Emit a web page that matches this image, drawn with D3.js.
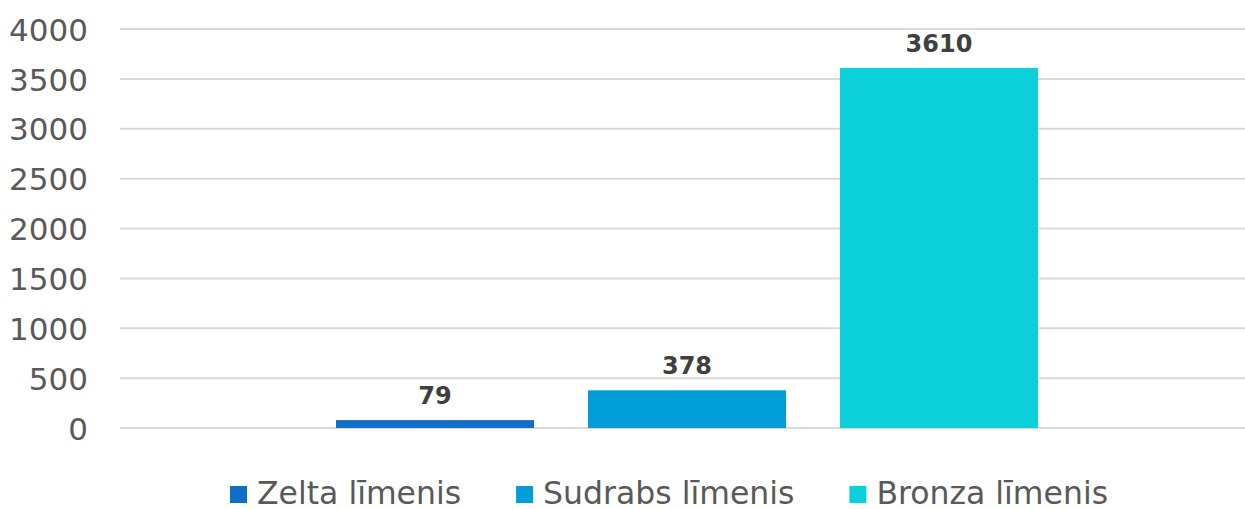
<!DOCTYPE html>
<html>
<head>
<meta charset="utf-8">
<script src="https://cdn.jsdelivr.net/npm/d3@7"></script>
<style>
  html, body { margin: 0; padding: 0; background: #fff; }
  svg { display: block; font-family: "DejaVu Sans", Verdana, sans-serif; }
</style>
</head>
<body>
<div id="chart"></div>
<script>
const seriesNames = ["Zelta līmenis", "Sudrabs līmenis", "Bronza līmenis"];
const seriesValues = [79, 378, 3610];
const seriesColors = ["#0F6FC6", "#009DD9", "#0BD0D9"];
const yTicks = [0, 500, 1000, 1500, 2000, 2500, 3000, 3500, 4000];

const width = 1245;
const height = 509;
const plot = { left: 120, right: 1254, top: 29, bottom: 428 };

const svg = d3.select("#chart")
  .append("svg")
  .attr("width", width)
  .attr("height", height);

const yScale = d3.scaleLinear()
  .domain([0, 4000])
  .range([plot.bottom, plot.top]);

// one category, three series side by side
const x0 = d3.scaleBand()
  .domain(["all"])
  .range([plot.left, plot.right])
  .paddingInner(0)
  .paddingOuter(0.3077);

const x1 = d3.scaleBand()
  .domain(seriesNames)
  .range([0, x0.bandwidth()])
  .paddingInner(0.214)
  .paddingOuter(0);

// gridlines
svg.append("g")
  .selectAll("line")
  .data(yTicks)
  .join("line")
  .attr("x1", plot.left)
  .attr("x2", width)
  .attr("y1", d => yScale(d))
  .attr("y2", d => yScale(d))
  .attr("stroke", "#d9d9d9")
  .attr("stroke-width", 2);

// y axis labels
const leftAxis = d3.axisLeft(yScale)
  .tickValues(yTicks)
  .tickFormat(d3.format("d"))
  .tickSize(0)
  .tickPadding(0);

const yAxis = svg.append("g")
  .attr("transform", "translate(88, 0)")
  .call(leftAxis);
yAxis.select(".domain").remove();
yAxis.selectAll("text")
  .attr("font-family", "DejaVu Sans, Verdana, sans-serif")
  .attr("font-size", "31px")
  .attr("fill", "#595959")
  .attr("dy", "0.36em");

const rows = seriesNames.map((name, i) => ({ name, value: seriesValues[i], color: seriesColors[i] }));

const group = svg.append("g")
  .attr("transform", `translate(${x0("all")}, 0)`);

group.selectAll("rect")
  .data(rows)
  .join("rect")
  .attr("x", d => x1(d.name))
  .attr("y", d => yScale(d.value))
  .attr("width", x1.bandwidth())
  .attr("height", d => yScale(0) - yScale(d.value))
  .attr("fill", d => d.color);

group.selectAll("text.value")
  .data(rows)
  .join("text")
  .attr("class", "value")
  .attr("x", d => x1(d.name) + x1.bandwidth() / 2)
  .attr("y", d => yScale(d.value) - 16)
  .attr("text-anchor", "middle")
  .attr("font-size", "24px")
  .attr("font-weight", "bold")
  .attr("fill", "#404040")
  .text(d => d.value);

// legend
const legend = svg.append("g")
  .attr("transform", "translate(230, 504)");

let cursor = 0;
rows.forEach(d => {
  legend.append("rect")
    .attr("x", cursor)
    .attr("y", -18)
    .attr("width", 17)
    .attr("height", 17)
    .attr("fill", d.color);
  const t = legend.append("text")
    .attr("x", cursor + 27)
    .attr("y", 0)
    .attr("font-size", "31.5px")
    .attr("fill", "#595959")
    .text(d.name);
  cursor += 27 + t.node().getComputedTextLength() + 55;
});
</script>
</body>
</html>
